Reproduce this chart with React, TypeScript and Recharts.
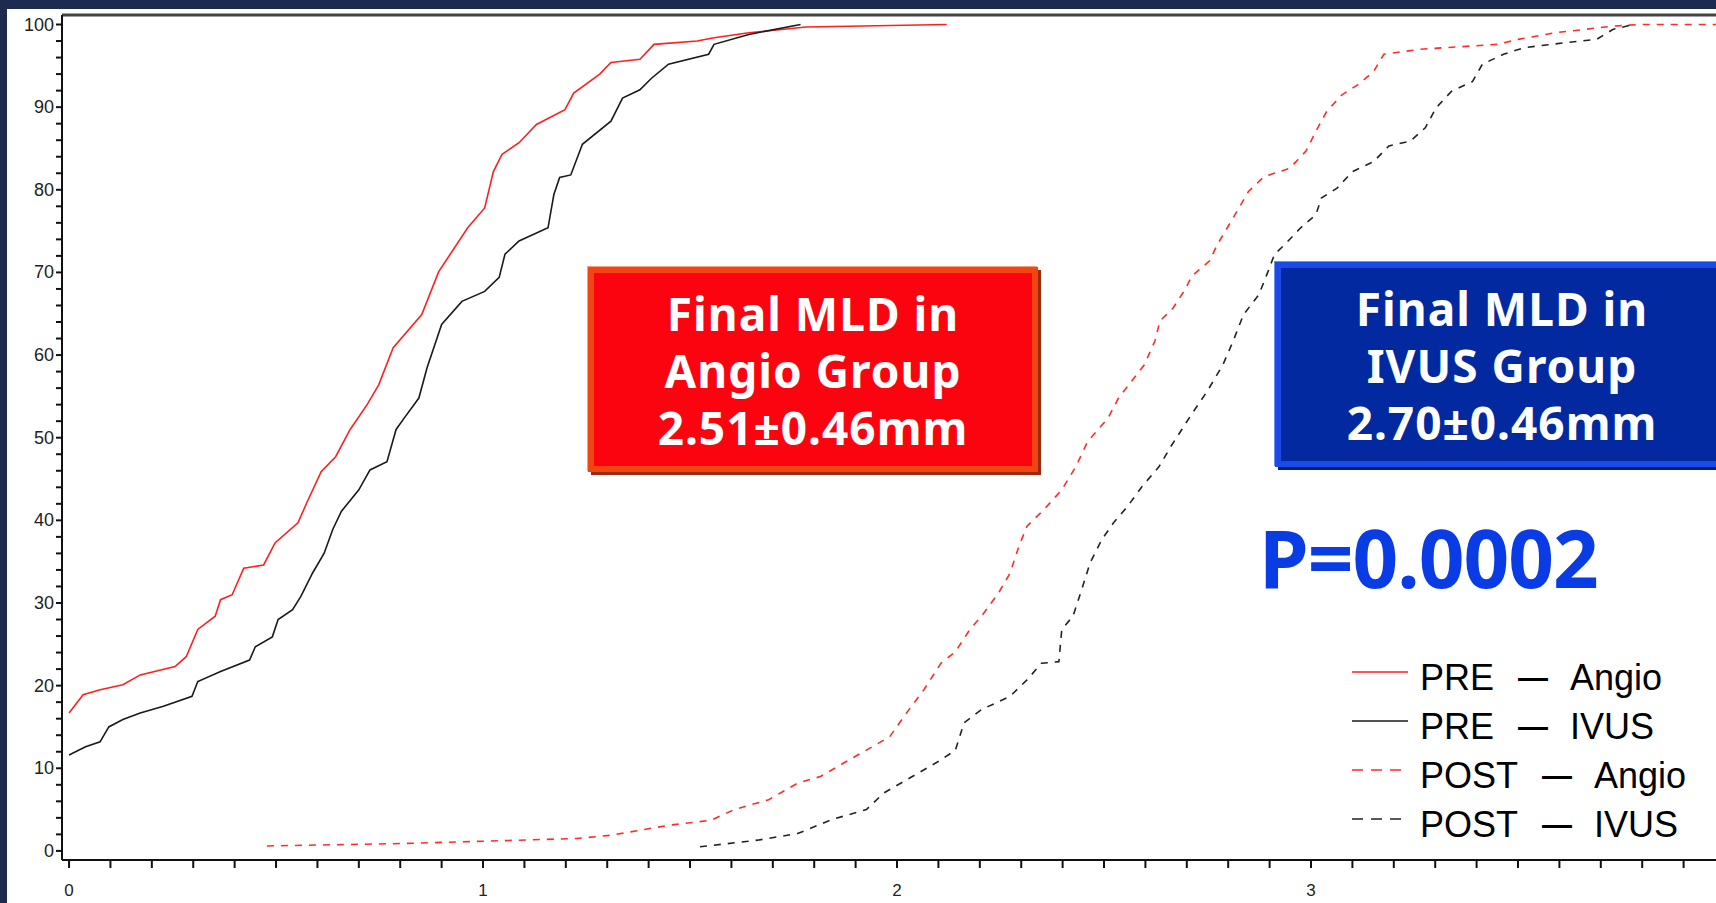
import { LineChart, Line, XAxis, YAxis, ReferenceLine, Legend } from "recharts";

// cumulative distribution (%) of MLD (mm)
const PRE_ANGIO: [number, number][] = [
  [0, 16.7], [0.034, 18.9], [0.075, 19.5], [0.13, 20.1], [0.172, 21.3], [0.256, 22.3], [0.283, 23.5],
  [0.311, 26.8], [0.353, 28.4], [0.366, 30.4], [0.394, 31], [0.422, 34.2], [0.47, 34.6], [0.498, 37.3],
  [0.553, 39.7], [0.574, 42.1], [0.609, 45.9], [0.644, 47.7], [0.679, 51], [0.72, 54], [0.748, 56.4],
  [0.783, 60.9], [0.852, 64.9], [0.893, 70.1], [0.963, 75.4], [1.004, 77.8], [1.025, 82.2], [1.046, 84.3],
  [1.087, 85.7], [1.129, 87.9], [1.198, 89.7], [1.219, 91.7], [1.282, 94], [1.309, 95.4], [1.379, 95.8],
  [1.413, 97.6], [1.517, 98], [1.558, 98.4], [1.642, 99], [1.78, 99.7], [2.12, 100],
];

const PRE_IVUS: [number, number][] = [
  [0, 11.6], [0.04, 12.6], [0.075, 13.2], [0.096, 15], [0.13, 15.9], [0.172, 16.7], [0.228, 17.5],
  [0.297, 18.7], [0.311, 20.5], [0.366, 21.7], [0.436, 23.1], [0.45, 24.7], [0.491, 25.9], [0.505, 28],
  [0.54, 29.2], [0.56, 30.8], [0.588, 33.6], [0.616, 36], [0.637, 38.9], [0.658, 41.1], [0.7, 43.7],
  [0.727, 46.1], [0.768, 47.1], [0.79, 51], [0.81, 52.4], [0.845, 54.8], [0.865, 58.5], [0.9, 63.7],
  [0.949, 66.5], [1.004, 67.7], [1.039, 69.4], [1.053, 72.2], [1.087, 73.8], [1.157, 75.4], [1.171, 79.4],
  [1.185, 81.5], [1.212, 81.8], [1.24, 85.5], [1.309, 88.3], [1.337, 91.1], [1.379, 92.1], [1.407, 93.5],
  [1.448, 95.2], [1.545, 96.4], [1.558, 97.6], [1.642, 98.8], [1.767, 100],
];

const POST_ANGIO: [number, number][] = [
  [0.478, 0.6], [0.81, 0.9], [1.226, 1.5], [1.31, 1.9], [1.448, 3.1], [1.55, 3.7], [1.607, 5], [1.69, 6.2],
  [1.76, 8.2], [1.815, 9], [1.87, 10.6], [1.926, 12.2], [1.982, 13.8], [2.023, 16.7], [2.065, 19.5],
  [2.106, 22.7], [2.141, 24.1], [2.176, 26.8], [2.204, 28.4], [2.245, 31.2], [2.273, 33.6], [2.294, 36.8],
  [2.314, 39.3], [2.355, 41.3], [2.398, 43.7], [2.432, 46.5], [2.46, 49.5], [2.51, 52.4], [2.535, 54.8],
  [2.566, 56.8], [2.597, 58.8], [2.623, 61.7], [2.635, 64.1], [2.667, 65.7], [2.698, 68.1], [2.711, 69.5],
  [2.755, 71.4], [2.774, 73.4], [2.812, 76.6], [2.849, 79.8], [2.887, 81.6], [2.949, 82.6], [2.988, 84.7],
  [3.012, 87.1], [3.038, 89.5], [3.075, 91.5], [3.113, 92.7], [3.151, 94.3], [3.176, 96.4], [3.263, 97],
  [3.451, 97.6], [3.5, 98.2], [3.59, 99], [3.729, 99.8], [3.792, 100], [3.98, 100],
];

const POST_IVUS: [number, number][] = [
  [1.524, 0.5], [1.663, 1.3], [1.76, 2.1], [1.843, 3.8], [1.926, 5], [1.968, 7], [2.023, 8.6], [2.106, 11],
  [2.141, 12.2], [2.162, 15.5], [2.204, 17.1], [2.273, 18.7], [2.314, 20.7], [2.349, 22.7], [2.391, 22.9],
  [2.398, 26.8], [2.425, 28.4], [2.446, 31.6], [2.466, 34.8], [2.495, 37.7], [2.523, 39.7], [2.557, 41.7],
  [2.592, 44.1], [2.633, 46.5], [2.661, 48.9], [2.688, 51], [2.711, 52.8], [2.749, 55.6], [2.787, 58.8],
  [2.812, 61.7], [2.837, 64.9], [2.874, 67.3], [2.893, 69.7], [2.912, 72.2], [2.937, 73.4], [2.975, 75.4],
  [3.012, 77], [3.025, 79], [3.063, 80.2], [3.1, 82.2], [3.151, 83.4], [3.188, 85.3], [3.24, 85.9],
  [3.276, 87.5], [3.302, 89.9], [3.339, 91.9], [3.39, 93.1], [3.414, 95.2], [3.465, 96.4], [3.515, 97.2],
  [3.615, 97.8], [3.69, 98.2], [3.729, 99.4], [3.779, 100],
];

const X_LABELS = [0, 1, 2, 3];
const Y_LABELS = [0, 10, 20, 30, 40, 50, 60, 70, 80, 90, 100];
const X_MINOR = 0.1;
const X_LAST_TICK = 4;
const Y_MINOR = 2;

const X_DOMAIN: [number, number] = [-0.017, 4];
const Y_DOMAIN: [number, number] = [-1.1, 101.15];

const xTicks = Array.from({ length: Math.round(X_LAST_TICK / X_MINOR) + 1 }, (_, i) => i / 10);
const yTicks = Array.from({ length: Y_LABELS[Y_LABELS.length - 1] / Y_MINOR + 1 }, (_, i) => i * Y_MINOR);

const SERIES = [
  { key: "preAngio", group: "PRE", arm: "Angio", points: PRE_ANGIO, color: "#ff1f1f", dash: undefined },
  { key: "preIvus", group: "PRE", arm: "IVUS", points: PRE_IVUS, color: "#1a1a1a", dash: undefined },
  { key: "postAngio", group: "POST", arm: "Angio", points: POST_ANGIO, color: "#ff2a2a", dash: "7 7" },
  { key: "postIvus", group: "POST", arm: "IVUS", points: POST_IVUS, color: "#222222", dash: "7 7" },
];

const AXIS_FONT = "'Liberation Sans', Arial, sans-serif";
const BOX_FONT = "'Comic Sans MS', 'Noto Sans', sans-serif";

function YTick({ x, y, payload }: any) {
  if (!Y_LABELS.includes(payload.value)) return <g />;
  return (
    <text x={x} y={y} textAnchor="end" dominantBaseline="central" fontSize={18} fill="#222" fontFamily={AXIS_FONT}>
      {payload.value}
    </text>
  );
}

function XTick({ x, y, payload }: any) {
  if (!X_LABELS.includes(payload.value)) return <g />;
  return (
    <text x={x} y={y} dy={26} textAnchor="middle" fontSize={17} fill="#222" fontFamily={AXIS_FONT}>
      {payload.value}
    </text>
  );
}

function LegendBox() {
  return (
    <div style={{ fontFamily: AXIS_FONT, fontSize: 36, color: "#000", lineHeight: "49px" }}>
      {SERIES.map((s) => (
        <div key={s.key} style={{ display: "flex", alignItems: "center", height: 49, whiteSpace: "nowrap" }}>
          <svg width={56} height={10} style={{ marginRight: 12, marginTop: -12 }}>
            <line x1={0} y1={5} x2={56} y2={5} stroke={s.color} strokeWidth={1.5} strokeDasharray={s.dash ? "11 8" : undefined} />
          </svg>
          <span>{s.group}</span>
          <span style={{ fontWeight: "bold", fontSize: 30, margin: "0 22px 0 24px" }}>—</span>
          <span>{s.arm}</span>
        </div>
      ))}
    </div>
  );
}

function ResultBox({ lines, left, top, width, height, fill, edge, shade, light }: any) {
  return (
    <div
      style={{
        position: "absolute",
        left,
        top,
        width,
        height,
        boxSizing: "border-box",
        background: fill,
        border: `6px solid ${edge}`,
        boxShadow: `3px 3px 0 ${shade}, -1px -1px 0 ${light}`,
        color: "#fff",
        fontFamily: BOX_FONT,
        fontWeight: "bold",
        fontSize: 46,
        letterSpacing: 1,
        textAlign: "center",
        lineHeight: "57px",
        paddingTop: 12,
      }}
    >
      {lines.map((l: string) => (
        <div key={l}>{l}</div>
      ))}
    </div>
  );
}

export default function App() {
  return (
    <div style={{ position: "absolute", left: 0, top: 0, width: 1716, height: 903, background: "#1c2b4e", overflow: "hidden" }}>
      <div style={{ position: "absolute", left: 7, top: 9, right: 0, bottom: 0, background: "#fff" }} />
      <div style={{ position: "absolute", left: 0, top: 0 }}>
        <LineChart width={1725} height={903} margin={{ top: 15, right: 0, left: 0, bottom: 0 }}>
          <XAxis
            dataKey="x"
            type="number"
            domain={X_DOMAIN}
            ticks={xTicks}
            interval={0}
            allowDataOverflow
            height={43}
            tickSize={8}
            tick={<XTick />}
            axisLine={{ stroke: "#111", strokeWidth: 2 }}
            tickLine={{ stroke: "#111", strokeWidth: 2 }}
          />
          <YAxis
            type="number"
            domain={Y_DOMAIN}
            ticks={yTicks}
            interval={0}
            allowDataOverflow
            width={62}
            tickSize={6}
            tick={<YTick />}
            axisLine={{ stroke: "#111", strokeWidth: 2 }}
            tickLine={{ stroke: "#111", strokeWidth: 2 }}
          />
          <ReferenceLine y={Y_DOMAIN[1]} stroke="#444" strokeWidth={3} ifOverflow="visible" />
          {SERIES.map((s) => (
            <Line
              key={s.key}
              name={`${s.group} — ${s.arm}`}
              data={s.points.map(([x, y]) => ({ x, y }))}
              dataKey="y"
              type="linear"
              stroke={s.color}
              strokeWidth={1.6}
              strokeDasharray={s.dash}
              dot={false}
              activeDot={false}
              isAnimationActive={false}
            />
          ))}
          <Legend
            layout="vertical"
            align="center"
            verticalAlign="middle"
            content={<LegendBox />}
            wrapperStyle={{ left: 1352, top: 653, width: 380, bottom: "auto", right: "auto" }}
          />
        </LineChart>
      </div>
      <ResultBox
        lines={["Final MLD in", "Angio Group", "2.51±0.46mm"]}
        left={588}
        top={267}
        width={450}
        height={205}
        fill="#fb0410"
        edge="#f2450f"
        shade="#9a2a10"
        light="#f8a07e"
      />
      <ResultBox
        lines={["Final MLD in", "IVUS Group", "2.70±0.46mm"]}
        left={1275}
        top={262}
        width={454}
        height={205}
        fill="#0229a0"
        edge="#1c4ae6"
        shade="#0b1d78"
        light="#6f8ef0"
      />
      <div
        style={{
          position: "absolute",
          left: 1259,
          top: 517,
          fontFamily: BOX_FONT,
          fontWeight: "bold",
          fontSize: 80,
          lineHeight: "80px",
          letterSpacing: -1,
          color: "#0a3ce6",
          whiteSpace: "nowrap",
        }}
      >
        P=0.0002
      </div>
    </div>
  );
}
